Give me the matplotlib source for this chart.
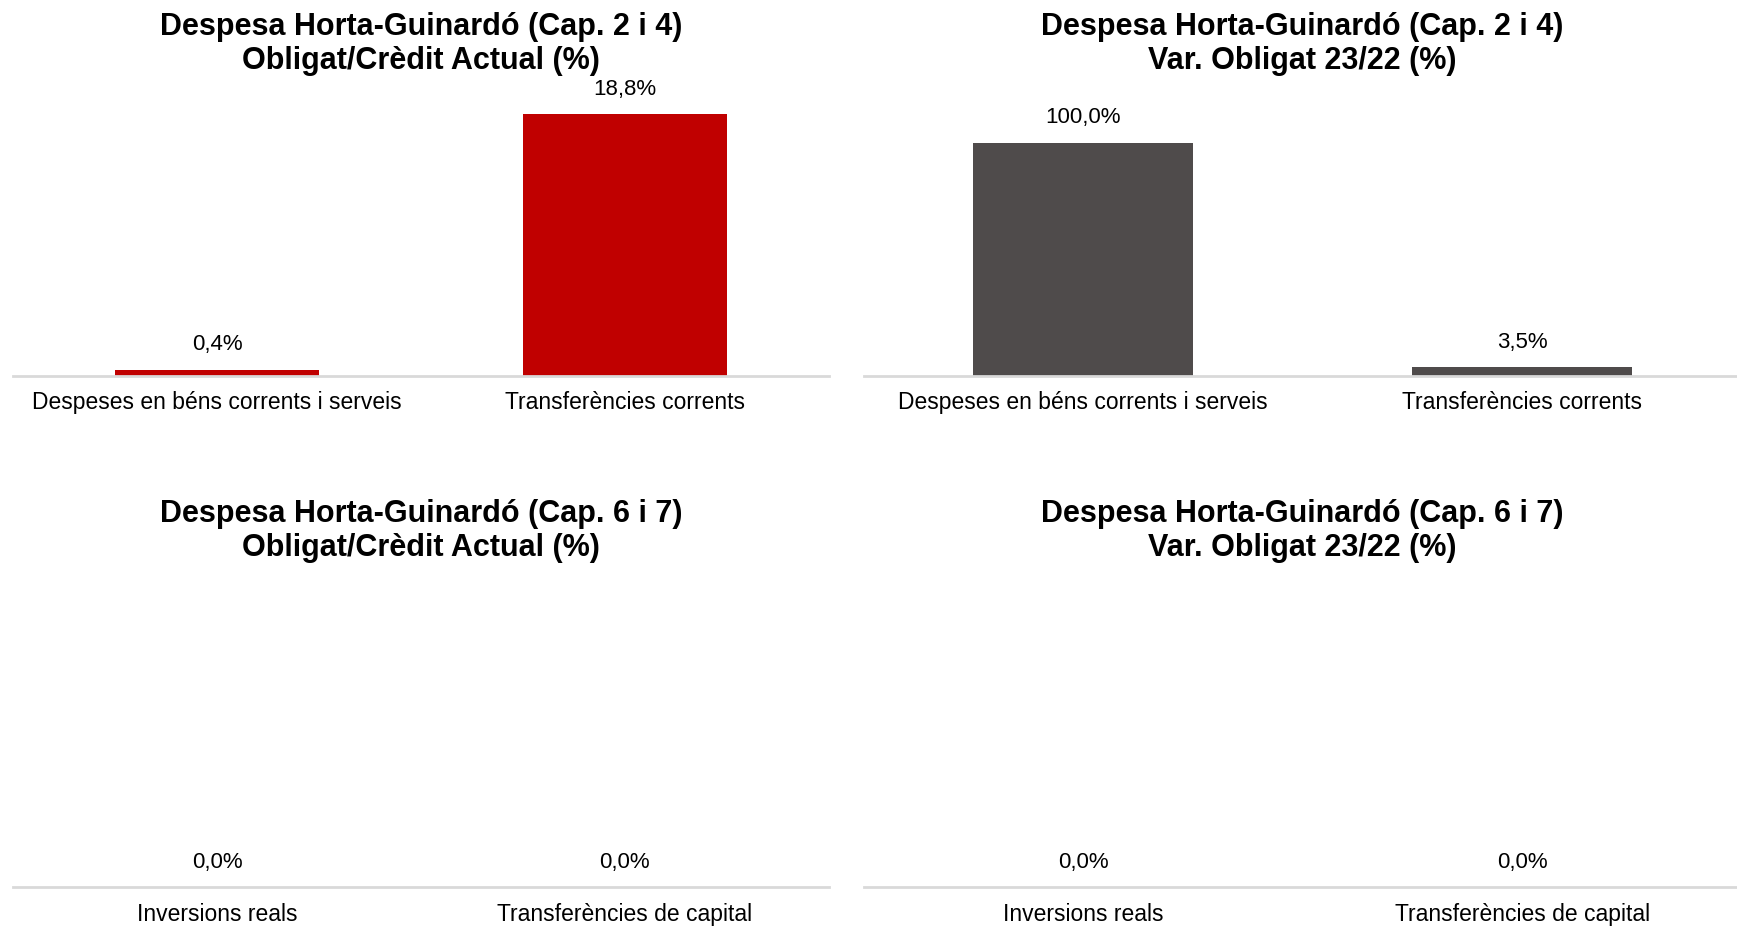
import matplotlib
matplotlib.use("Agg")
import matplotlib.pyplot as plt

plt.rcParams['font.family'] = ['Liberation Sans', 'DejaVu Sans']

# categories and values for each panel
cats_cap24 = ['Despeses en béns corrents i serveis', 'Transferències corrents']
cats_cap67 = ['Inversions reals', 'Transferències de capital']
obligat_credit_24 = [0.4, 18.8]
var_obligat_24 = [100.0, 3.5]
obligat_credit_67 = [0.0, 0.0]
var_obligat_67 = [0.0, 0.0]

titles = [
    'Despesa Horta-Guinardó (Cap. 2 i 4)\nObligat/Crèdit Actual (%)',
    'Despesa Horta-Guinardó (Cap. 2 i 4)\nVar. Obligat 23/22 (%)',
    'Despesa Horta-Guinardó (Cap. 6 i 7)\nObligat/Crèdit Actual (%)',
    'Despesa Horta-Guinardó (Cap. 6 i 7)\nVar. Obligat 23/22 (%)',
]

RED = '#C00000'
GREY = '#4F4B4B'

W, H = 1737, 927
fig = plt.figure(figsize=(W / 100, H / 100), dpi=100)

ax_h = 300 / H
panels = [
    # (left, bottom, width, values, cats, colour, ymax, title y)
    (13.3 / W, 551.5 / H, 815.3 / W, obligat_credit_24, cats_cap24, RED, 21.6, 883 / H),
    (863.5 / W, 551.5 / H, 878.2 / W, var_obligat_24, cats_cap24, GREY, 129.0, 883 / H),
    (13.3 / W, 39.7 / H, 815.3 / W, obligat_credit_67, cats_cap67, RED, 1.0, 396 / H),
    (863.5 / W, 39.7 / H, 878.2 / W, var_obligat_67, cats_cap67, GREY, 1.0, 396 / H),
]


def pct(v):
    return f'{v:.1f}'.replace('.', ',') + '%'


for (left, bottom, width, vals, cats, colour, ymax, ty), title in zip(panels, titles):
    ax = fig.add_axes([left, bottom, width, ax_h])
    x = range(len(cats))
    bars = ax.bar(x, vals, width=0.5, color=colour)
    ax.set_xlim(-0.5, len(cats) - 0.5)
    ax.set_ylim(0, ymax)
    ax.set_xticks(list(x))
    ax.set_xticklabels(cats, fontsize=16.5)
    ax.tick_params(axis='x', length=0, pad=11)
    ax.set_yticks([])
    for side in ['top', 'right', 'left']:
        ax.spines[side].set_visible(False)
    ax.spines['bottom'].set_color('#D9D9D9')
    ax.spines['bottom'].set_linewidth(2)

    for b, v in zip(bars, vals):
        ax.annotate(pct(v), (b.get_x() + b.get_width() / 2, v),
                    xytext=(0, 18), textcoords='offset points',
                    ha='center', va='center', fontsize=16)

    # two-line bold title above each panel
    fig.text(left + width / 2, ty, title, ha='center', va='center',
             fontsize=22, fontweight='bold', linespacing=1.2)

fig.savefig('out.png', dpi=100)
